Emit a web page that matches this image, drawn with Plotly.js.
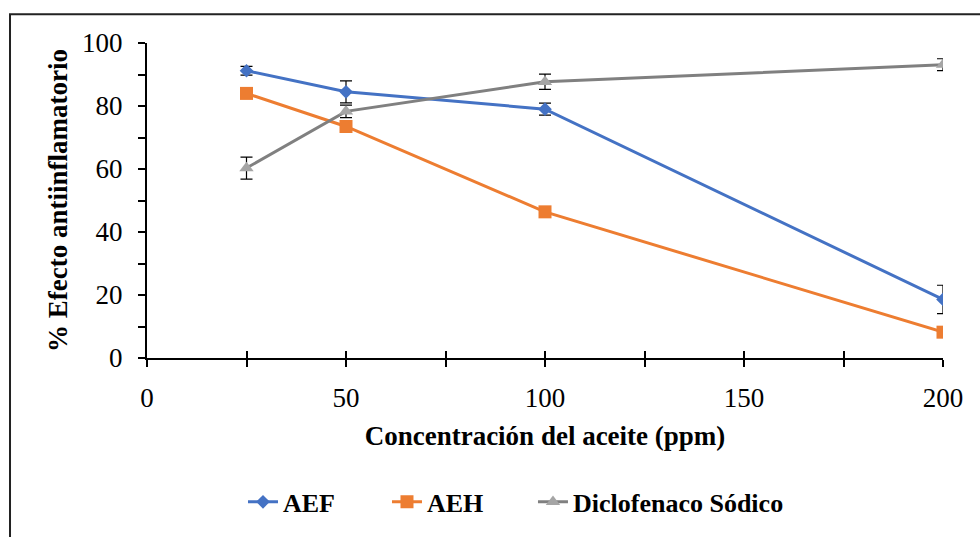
<!DOCTYPE html>
<html>
<head>
<meta charset="utf-8">
<script src="https://cdn.plot.ly/plotly-3.0.1.min.js"></script>
<style>
  html, body { margin: 0; padding: 0; background: #ffffff; }
  #chart { width: 980px; height: 537px; }
</style>
</head>
<body>
<div id="chart"></div>
<script>
// Concentration of the oil (ppm)
const concentracion = [25, 50, 100, 200];

// % anti-inflammatory effect per treatment, with standard deviation
const aef = [91.2, 84.5, 79.0, 18.6];
const aefErr = [1.4, 3.5, 1.9, 4.5];

const aeh = [84.0, 73.5, 46.4, 8.2];

const diclofenaco = [60.3, 78.3, 87.7, 93.1];
const diclofenacoErr = [3.5, 2.0, 2.4, 1.9];

const seriesNames = ['AEF', 'AEH', 'Diclofenaco Sódico'];

const FONT = "'Liberation Serif', 'Times New Roman', Times, serif";

const errStyle = (vals) => ({
  type: 'data', array: vals, visible: true,
  color: '#000000', thickness: 1.2, width: 6
});

const traces = [
  {
    x: concentracion, y: aef, name: seriesNames[0], legend: 'legend',
    type: 'scatter', mode: 'lines+markers',
    line: { color: '#4472C4', width: 3 },
    marker: { symbol: 'diamond', size: 10.5, color: '#4472C4' },
    error_y: errStyle(aefErr)
  },
  {
    x: concentracion, y: aeh, name: seriesNames[1], legend: 'legend2',
    type: 'scatter', mode: 'lines+markers',
    line: { color: '#ED7D31', width: 3 },
    marker: { symbol: 'square', size: 13, color: '#ED7D31' }
  },
  {
    x: concentracion, y: diclofenaco, name: seriesNames[2], legend: 'legend3',
    type: 'scatter', mode: 'lines+markers',
    line: { color: '#808080', width: 3 },
    marker: { symbol: 'triangle-up', size: 12.5, color: '#A5A5A5' },
    error_y: errStyle(diclofenacoErr)
  }
];

// one legend box per series, laid out in a row under the x-axis title
const legendBox = (x) => ({
  orientation: 'h',
  x: x, xanchor: 'left',
  y: -0.457, yanchor: 'middle',
  font: { family: FONT, size: 26, weight: 'bold', color: '#000000' },
  itemwidth: 30,
  bgcolor: 'rgba(0,0,0,0)'
});

const layout = {
  width: 980, height: 537,
  margin: { l: 147, r: 37, t: 43, b: 177 },
  paper_bgcolor: '#ffffff',
  plot_bgcolor: '#ffffff',
  font: { family: FONT, color: '#000000', size: 27 },
  showlegend: true,
  legend: legendBox(0.1206),
  legend2: legendBox(0.3015),
  legend3: legendBox(0.4849),
  xaxis: {
    range: [0, 200],
    tickmode: 'linear', tick0: 0, dtick: 50,
    ticks: 'outside', ticklen: 7, tickwidth: 2, tickcolor: '#000000',
    minor: { dtick: 25, ticks: 'outside', ticklen: 7, tickwidth: 2, tickcolor: '#000000' },
    showline: true, linecolor: '#000000', linewidth: 2,
    showgrid: false, zeroline: false,
    tickfont: { family: FONT, size: 27 },
    ticklabelstandoff: 8,
    title: {
      text: 'Concentración del aceite (ppm)',
      font: { family: FONT, size: 27, weight: 'bold' },
      standoff: 14
    }
  },
  // overlay axis supplies the inner half of the crossing x ticks
  xaxis2: {
    overlaying: 'x', matches: 'x', range: [0, 200],
    tickmode: 'linear', tick0: 0, dtick: 50,
    ticks: 'inside', ticklen: 7, tickwidth: 2, tickcolor: '#000000',
    minor: { dtick: 25, ticks: 'inside', ticklen: 7, tickwidth: 2, tickcolor: '#000000' },
    showticklabels: false, showgrid: false, zeroline: false, showline: false,
    side: 'bottom'
  },
  yaxis: {
    range: [0, 100],
    tickmode: 'linear', tick0: 0, dtick: 20,
    ticks: 'outside', ticklen: 7, tickwidth: 2, tickcolor: '#000000',
    minor: { dtick: 10, ticks: 'outside', ticklen: 7, tickwidth: 2, tickcolor: '#000000' },
    showline: true, linecolor: '#000000', linewidth: 2,
    showgrid: false, zeroline: false,
    tickfont: { family: FONT, size: 27 },
    ticklabelstandoff: 10,
    title: {
      text: '% Efecto antiinflamatorio',
      font: { family: FONT, size: 27, weight: 'bold' },
      standoff: 7
    }
  },
  shapes: [
    {
      type: 'rect', xref: 'paper', yref: 'paper',
      x0: -0.1721, x1: 1.06, y0: -0.62, y1: 1.0915,
      line: { color: '#222222', width: 2 },
      fillcolor: 'rgba(0,0,0,0)', layer: 'below'
    }
  ]
};

// invisible point so the overlay axis renders its ticks
traces.push({
  x: [0], y: [0], xaxis: 'x2', yaxis: 'y',
  type: 'scatter', mode: 'markers', marker: { opacity: 0 },
  showlegend: false, hoverinfo: 'skip'
});

Plotly.newPlot('chart', traces, layout, { displayModeBar: false, staticPlot: true });
</script>
</body>
</html>
